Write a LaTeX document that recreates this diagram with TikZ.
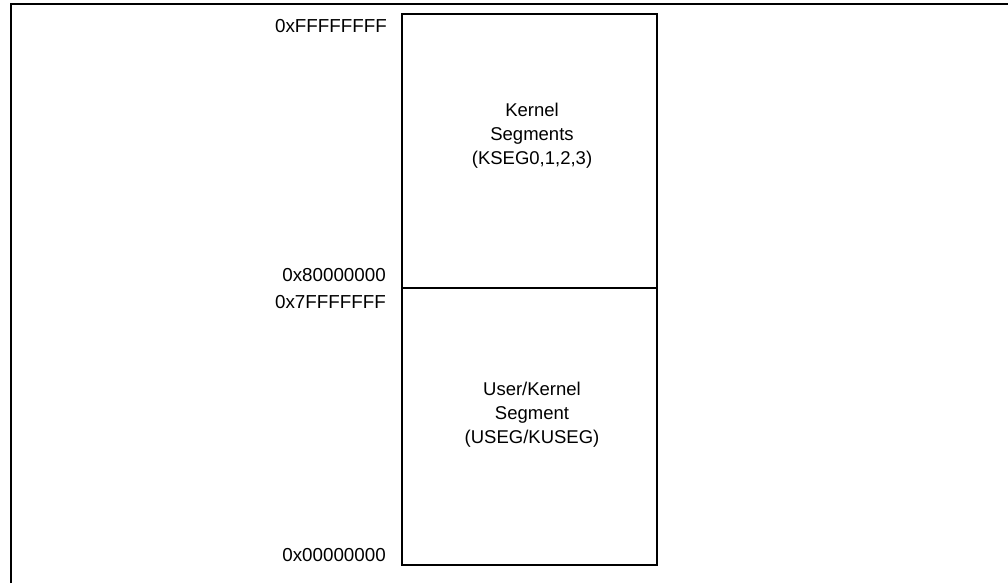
\documentclass[tikz,border=0pt]{standalone}
\usepackage{fontspec}
\setmainfont{Liberation Sans}
\begin{document}
\begin{tikzpicture}[x=1pt,y=-1pt,
  seg/.style={draw=black, line width=2pt, minimum width=255pt, inner sep=0pt, outer sep=0pt},
  addr/.style={anchor=east, inner sep=0pt, font=\fontsize{18.8}{22}\selectfont},
  segtext/.style={align=center, inner sep=0pt, font=\fontsize{18.5}{24}\selectfont}]
\useasboundingbox (0,0) rectangle (1008,583);
\fill[white] (0,0) rectangle (1008,583);
% outer frame
\coordinate (fl) at (11,583);
\coordinate (ftl) at (11,4.5);
\coordinate (ftr) at (1010,4.5);
\draw[line width=2pt] (fl) -- (ftl) -- (ftr);
% segments
\node[seg, minimum height=274pt] (kseg) at (529.5,151) {};
\node[seg, minimum height=277pt] (useg) at (529.5,426.5) {};
\node[segtext] (ktext) at (532,136) {Kernel\\Segments\\(KSEG0,1,2,3)};
\node[segtext] (utext) at (532,415) {User/Kernel\\Segment\\(USEG/KUSEG)};
% addresses
\node[addr] (aF) at (387,26) {0xFFFFFFFF};
\node[addr] (a8) at (386,275) {0x80000000};
\node[addr] (a7) at (386,302) {0x7FFFFFFF};
\node[addr] (a0) at (386,555) {0x00000000};
\end{tikzpicture}
\end{document}
